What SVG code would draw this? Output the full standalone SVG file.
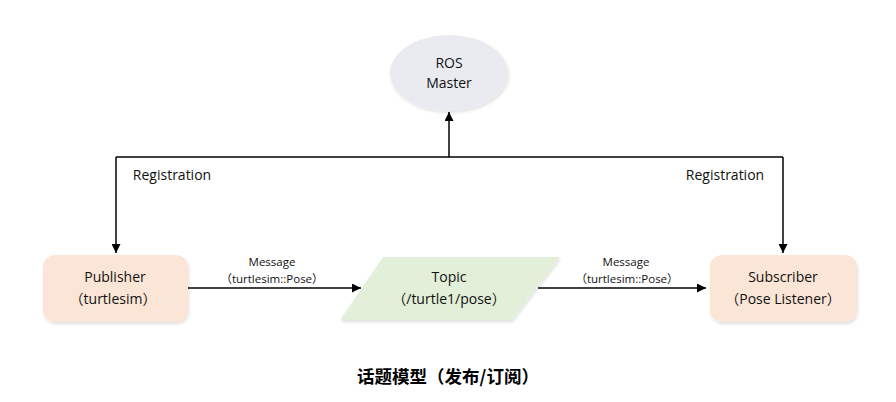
<svg xmlns="http://www.w3.org/2000/svg" width="896" height="402" viewBox="0 0 896 402">
<style>
text{font-family:"Open Sans","Liberation Sans","Noto Sans CJK SC",sans-serif;fill:#111;text-anchor:middle}
.p{font-family:"Noto Sans CJK SC",sans-serif}
.n{font-size:14px}
.s{font-size:11.5px}
.c{stroke:#000;stroke-width:1.5;fill:none}
.box{fill:#FBE5D6;filter:url(#sh)}
.title{font-family:"Noto Sans CJK SC",sans-serif;font-size:17.5px;font-weight:bold;fill:#000}
</style>
<defs>
<marker id="ah" viewBox="0 0 10 10" refX="10" refY="5" markerWidth="9" markerHeight="9" markerUnits="userSpaceOnUse" orient="auto"><path d="M0,0L10,5L0,10Z" fill="#000"/></marker>
<filter id="sh" x="-10%" y="-10%" width="125%" height="130%"><feDropShadow dx="1" dy="2" stdDeviation="1.5" flood-color="#000" flood-opacity="0.12"/></filter>
</defs>
<rect width="896" height="402" fill="#fff"/>
<g id="master">
<ellipse cx="449" cy="73" rx="59" ry="38" fill="#E9EBF0" filter="url(#sh)"/>
<text class="n" x="449" y="68">ROS</text>
<text class="n" x="449" y="88">Master</text>
</g>
<g id="publisher">
<rect class="box" x="43" y="255" width="145" height="67" rx="12"/>
<text class="n" x="115" y="282">Publisher</text>
<text class="n" x="113" y="304"><tspan class="p">（</tspan>turtlesim<tspan class="p">）</tspan></text>
</g>
<g id="topic">
<polygon points="383,257 560,257 512,320 340,320" fill="#E2F0D9" filter="url(#sh)"/>
<text class="n" x="449" y="282">Topic</text>
<text class="n" x="449" y="304"><tspan class="p">（</tspan>/turtle1/pose<tspan class="p">）</tspan></text>
</g>
<g id="subscriber">
<rect class="box" x="710" y="255" width="147" height="67" rx="12"/>
<text class="n" x="783" y="282">Subscriber</text>
<text class="n" x="783" y="304"><tspan class="p">（</tspan>Pose Listener<tspan class="p">）</tspan></text>
</g>
<g id="connectors">
<path class="c" d="M116,157H783"/>
<path class="c" d="M449,157V112" marker-end="url(#ah)"/>
<path class="c" d="M116,157V253" marker-end="url(#ah)"/>
<path class="c" d="M783,157V253" marker-end="url(#ah)"/>
<path class="c" d="M188,288H361" marker-end="url(#ah)"/>
<path class="c" d="M538,288H706" marker-end="url(#ah)"/>
<text class="n" x="172" y="180">Registration</text>
<text class="n" x="725" y="180">Registration</text>
<text class="s" x="272" y="266">Message</text>
<text class="s" x="272" y="283"><tspan class="p">（</tspan>turtlesim::Pose<tspan class="p">）</tspan></text>
<text class="s" x="626" y="266">Message</text>
<text class="s" x="627" y="283"><tspan class="p">（</tspan>turtlesim::Pose<tspan class="p">）</tspan></text>
</g>
<text class="title" x="448" y="383">话题模型（发布/订阅）</text>
</svg>
